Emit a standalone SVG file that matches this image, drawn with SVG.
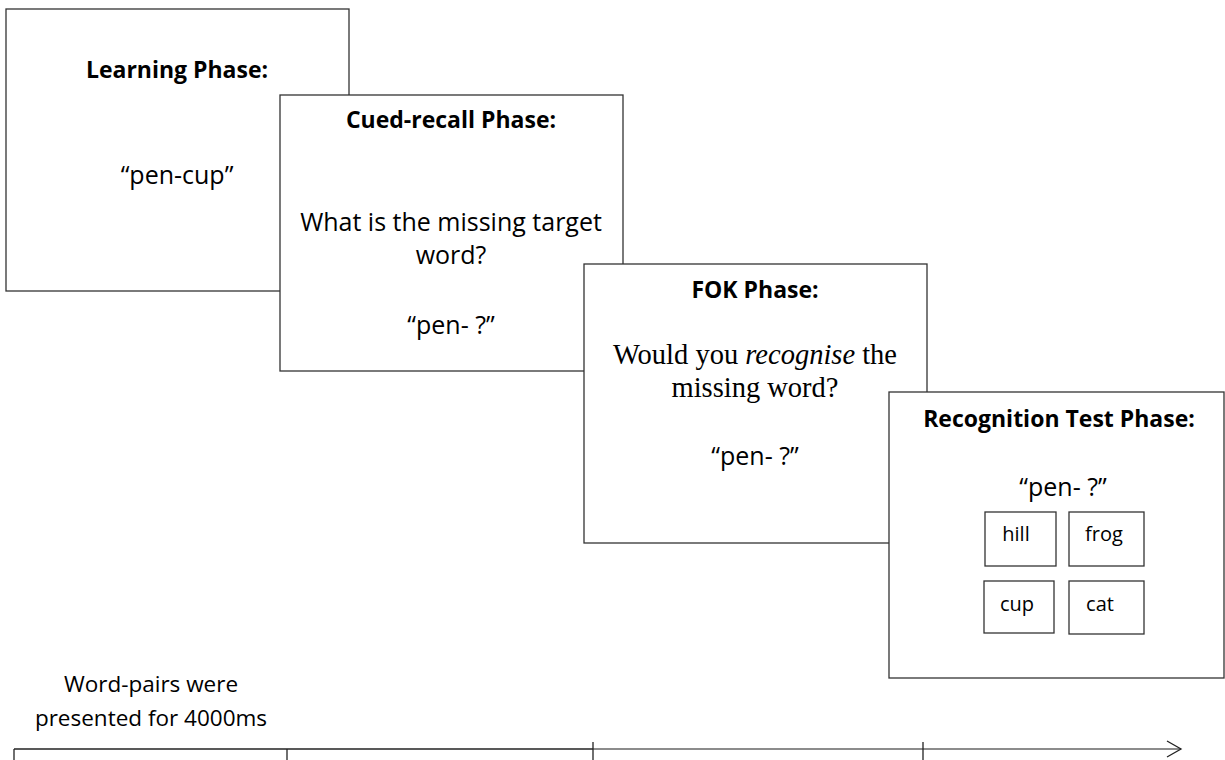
<svg xmlns="http://www.w3.org/2000/svg" width="1225" height="760" viewBox="0 0 1225 760">
<style>
.box{fill:#fff;stroke:#333;stroke-width:1.3}
.t{font-family:"Open Sans","Liberation Sans",sans-serif;fill:#000;text-anchor:middle}
.h{font-weight:bold;font-size:23px}
.b{font-size:25px}
.s{font-size:20px}
.sf{font-family:"Liberation Serif",serif;font-size:28.5px;fill:#000;text-anchor:middle}
.ln{stroke:#222;stroke-width:1.3;fill:none}
</style>
<g id="learning">
<rect class="box" x="6" y="9" width="343" height="282"/>
<text class="t h" x="177" y="78">Learning Phase:</text>
<text class="t b" x="177" y="184">“pen-cup”</text>
</g>
<g id="cued">
<rect class="box" x="280" y="95" width="343" height="276"/>
<text class="t h" x="451" y="128">Cued-recall Phase:</text>
<text class="t b" x="451" y="231">What is the missing target</text>
<text class="t b" x="451" y="264">word?</text>
<text class="t b" x="451" y="334">“pen- ?”</text>
</g>
<g id="fok">
<rect class="box" x="584" y="264" width="343" height="279"/>
<text class="t h" x="755" y="298">FOK Phase:</text>
<text class="sf" x="755" y="364">Would you <tspan font-style="italic">recognise</tspan> the</text>
<text class="sf" x="755" y="397">missing word?</text>
<text class="t b" x="755" y="465">“pen- ?”</text>
</g>
<g id="recognition">
<rect class="box" x="889" y="392" width="335" height="286"/>
<text class="t h" x="1059" y="427">Recognition Test Phase:</text>
<text class="t b" x="1063" y="496">“pen- ?”</text>
<g id="opt-hill"><rect class="box" x="985" y="512" width="71" height="54"/><text class="t s" x="1016" y="541">hill</text></g>
<g id="opt-frog"><rect class="box" x="1069" y="512" width="75" height="54"/><text class="t s" x="1104" y="541">frog</text></g>
<g id="opt-cup"><rect class="box" x="984" y="581" width="70" height="52"/><text class="t s" x="1017" y="611">cup</text></g>
<g id="opt-cat"><rect class="box" x="1069" y="581" width="75" height="53"/><text class="t s" x="1100" y="611">cat</text></g>
</g>
<g id="timeline-label">
<text class="t" font-size="22.5" x="151" y="692">Word-pairs were</text>
<text class="t" font-size="22.5" x="151" y="726">presented for 4000ms</text>
</g>
<g id="connectors">
<line class="ln" x1="14" y1="749" x2="593" y2="749"/>
<line x1="593" y1="749" x2="1181" y2="749" stroke="#666" stroke-width="1.6"/>
<polyline class="ln" points="1167,741 1181,749 1167,757"/>
<line class="ln" x1="14" y1="749" x2="14" y2="760"/>
<line class="ln" x1="287" y1="749" x2="287" y2="760"/>
<line class="ln" x1="593" y1="742" x2="593" y2="760"/>
<line class="ln" x1="923" y1="742" x2="923" y2="760"/>
</g>
</svg>
